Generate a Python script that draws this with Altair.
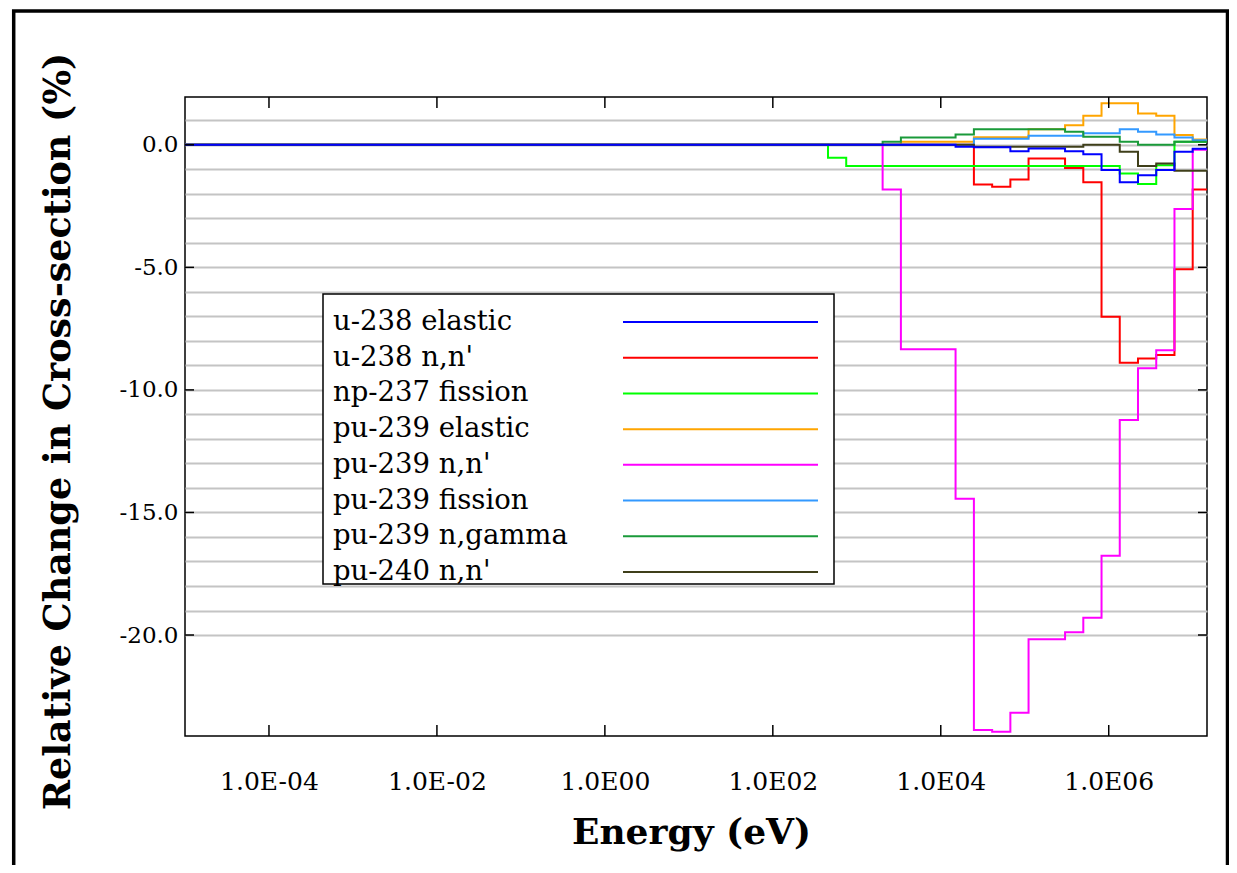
import altair as alt
import pandas as pd

# ---- data -------------------------------------------------------------
# lower edges of the energy groups (eV) and the top edge
energy_edges = [1e-5, 454, 748, 1230, 2030, 3350, 5530, 9120, 15000, 24800,
                40900, 67400, 111000, 183000, 302000, 498000, 821000,
                1353000, 2231000, 3679000, 6065000, 10000000]
energy_top = 1.48e7

series_names = ["u-238 elastic", "u-238 n,n'", "np-237 fission",
                "pu-239 elastic", "pu-239 n,n'", "pu-239 fission",
                "pu-239 n,gamma", "pu-240 n,n'"]
series_colors = ["#0000ff", "#ff0000", "#00ff00", "#ffa500", "#ff00ff",
                 "#3399ff", "#1a9a3a", "#3f3f1a"]

u238_elastic = [0, 0, 0, 0, 0, 0, 0, 0, -0.08, -0.10, -0.10, -0.26, -0.15,
                -0.15, -0.26, -0.39, -1.03, -1.53, -1.24, -1.03, -0.28, -0.16]
u238_nn = [0, 0, 0, 0, 0, 0, 0, 0, 0.0, -1.62, -1.71, -1.42, -0.56, -0.56,
           -0.95, -1.53, -7.02, -8.89, -8.72, -8.58, -5.08, -1.82]
np237_fission = [0, -0.53, -0.86, -0.86, -0.86, -0.86, -0.86, -0.86, -0.86,
                 -0.86, -0.86, -0.86, -0.86, -0.86, -0.86, -0.86, -0.86,
                 -1.17, -1.60, -0.83, 0.12, 0.12]
pu239_elastic = [0, 0, 0, 0, 0, 0.12, 0.12, 0.12, 0.12, 0.31, 0.31, 0.31,
                 0.63, 0.63, 0.80, 1.18, 1.69, 1.69, 1.28, 1.18, 0.40, 0.22]
pu239_nn = [0, 0, 0, 0, -1.82, -8.34, -8.34, -8.34, -14.44, -23.88, -23.95,
            -23.17, -20.17, -20.17, -19.89, -19.30, -16.77, -11.23, -9.12,
            -8.38, -2.62, -0.20]
pu239_fission = [0, 0, 0, 0, 0, 0, 0, 0, 0, 0.25, 0.25, 0.25, 0.37, 0.37,
                 0.37, 0.47, 0.47, 0.63, 0.53, 0.42, 0.30, 0.19]
pu239_ngamma = [0, 0, 0, 0, 0.12, 0.30, 0.30, 0.30, 0.42, 0.63, 0.63, 0.63,
                0.63, 0.63, 0.53, 0.33, 0.33, 0.12, 0.0, 0.0, 0.12, 0.12]
pu240_nn = [0, 0, 0, 0, 0, 0, 0, 0, 0, -0.08, -0.08, -0.08, -0.08, -0.08,
            -0.08, 0.0, 0.0, -0.28, -0.86, -0.76, -1.06, -1.06]

series_values = [u238_elastic, u238_nn, np237_fission, pu239_elastic,
                 pu239_nn, pu239_fission, pu239_ngamma, pu240_nn]

x_tick_values = [1e-4, 1e-2, 1, 1e2, 1e4, 1e6]
x_tick_labels = ["1.0E-04", "1.0E-02", "1.0E00", "1.0E02", "1.0E04", "1.0E06"]
y_tick_values = [0, -5, -10, -15, -20]
y_tick_labels = ["0.0", "-5.0", "-10.0", "-15.0", "-20.0"]
y_grid_values = [1, 0, -1, -2, -3, -4, -5, -6, -7, -8, -9, -10, -11, -12,
                 -13, -14, -15, -16, -17, -18, -19, -20]

# ---- build tables ------------------------------------------------------
draw_order = series_names[1:] + series_names[:1]   # blue drawn last (on top)
rows = []
for name in draw_order:
    vals = series_values[series_names.index(name)]
    for e, v in zip(energy_edges, vals):
        rows.append({"series": name, "energy": e, "change": v})
    rows.append({"series": name, "energy": energy_top, "change": vals[-1]})
df = pd.DataFrame(rows)
legend_df = pd.DataFrame({"series": series_names})
xticks_df = pd.DataFrame({"energy": x_tick_values})
yticks_df = pd.DataFrame({"change": y_tick_values})


def x_label_expr(values, labels):
    expr = "''"
    for v, lab in reversed(list(zip(values, labels))):
        expr = f"abs(datum.value / {v} - 1) < 1e-6 ? '{lab}' : ({expr})"
    return expr


def y_label_expr(values, labels):
    expr = "''"
    for v, lab in reversed(list(zip(values, labels))):
        expr = f"abs(datum.value - ({v})) < 1e-6 ? '{lab}' : ({expr})"
    return expr


W, H = 1022, 639
SERIF = "DejaVu Serif"

x_scale = alt.Scale(type="log", domain=[1e-5, energy_top], nice=False)
y_scale = alt.Scale(domain=[-24.12, 1.95], nice=False, zero=False)
color_scale = alt.Scale(domain=series_names, range=series_colors)

x_axis = alt.Axis(values=x_tick_values,
                  labelExpr=x_label_expr(x_tick_values, x_tick_labels),
                  grid=False, ticks=False, tickSize=0, domain=False,
                  labelFont=SERIF, labelFontSize=25, labelColor="black",
                  labelBaseline="middle", labelPadding=45,
                  labelFlush=False, labelOverlap=False,
                  title="Energy (eV)", titleFont=SERIF,
                  titleFontSize=36, titleFontWeight="bold",
                  titleColor="black", titleX=506, titleY=96,
                  titleAlign="center", titleBaseline="middle")

lines = alt.Chart(df).mark_line(interpolate="step-after", strokeWidth=2, clip=True).encode(
    x=alt.X("energy:Q", scale=x_scale, axis=x_axis),
    y=alt.Y("change:Q", scale=y_scale,
            axis=alt.Axis(values=y_grid_values,
                          labelExpr=y_label_expr(y_tick_values, y_tick_labels),
                          grid=True, gridColor="#c4c4c4", gridWidth=2,
                          ticks=False, tickSize=0, domain=False,
                          labelFont=SERIF, labelFontSize=23, labelColor="black",
                          labelPadding=7, labelOverlap=False, labelFlush=False,
                          title="Relative Change in Cross-section (%)",
                          titleFont=SERIF, titleFontSize=36.5,
                          titleFontWeight="bold", titleColor="black",
                          titleAngle=270, titleX=-127, titleY=334,
                          titleAlign="center", titleBaseline="middle")),
    color=alt.Color("series:N", scale=color_scale, legend=None),
    detail="series:N",
)

one = alt.Data(values=[{"k": 1}])

legend_box = alt.Chart(one).mark_rect(fill="white", stroke="black", strokeWidth=1.5).encode(
    x=alt.value(138), x2=alt.value(649), y=alt.value(197), y2=alt.value(487))

legend_y = alt.Y("series:N", axis=None,
                 scale=alt.Scale(type="point", domain=series_names,
                                 range=[225, 475], padding=0))

legend_lines = alt.Chart(legend_df).mark_rule(strokeWidth=2).encode(
    x=alt.value(438), x2=alt.value(633), y=legend_y,
    color=alt.Color("series:N", scale=color_scale, legend=None))

legend_text = alt.Chart(legend_df).mark_text(
    font=SERIF, fontSize=27.5, align="left", baseline="middle", color="black").encode(
    x=alt.value(148), y=legend_y, text="series:N")

bottom_ticks = alt.Chart(xticks_df).mark_rule(color="black", strokeWidth=1.5).encode(
    x=alt.X("energy:Q", scale=x_scale, axis=x_axis), y=alt.value(H - 11), y2=alt.value(H))
top_ticks = alt.Chart(xticks_df).mark_rule(color="black", strokeWidth=1.5).encode(
    x=alt.X("energy:Q", scale=x_scale, axis=x_axis), y=alt.value(0), y2=alt.value(11))
right_ticks = alt.Chart(yticks_df).mark_rule(color="black", strokeWidth=1.5).encode(
    y=alt.Y("change:Q", scale=y_scale, axis=None), x=alt.value(W - 9), x2=alt.value(W))
left_ticks = alt.Chart(yticks_df).mark_rule(color="black", strokeWidth=1.5).encode(
    y=alt.Y("change:Q", scale=y_scale, axis=None), x=alt.value(0), x2=alt.value(9))

frame = alt.Chart(one).mark_rect(fill="white", fillOpacity=0, stroke="black",
                                 strokeWidth=3.5, clip=False).encode(
    x=alt.value(-171.3), x2=alt.value(1042.5), y=alt.value(-86), y2=alt.value(900))

chart = alt.layer(
    lines, legend_box, legend_lines, legend_text,
    bottom_ticks, top_ticks, right_ticks, left_ticks, frame
).resolve_scale(y="independent").properties(
    width=W, height=H,
    padding={"left": 177, "top": 89, "right": 22, "bottom": 129},
    autosize="none",
    background="white",
).configure_view(stroke="black", strokeWidth=1.5)

chart.save("out.html", embed_options={"renderer": "svg", "actions": False})
